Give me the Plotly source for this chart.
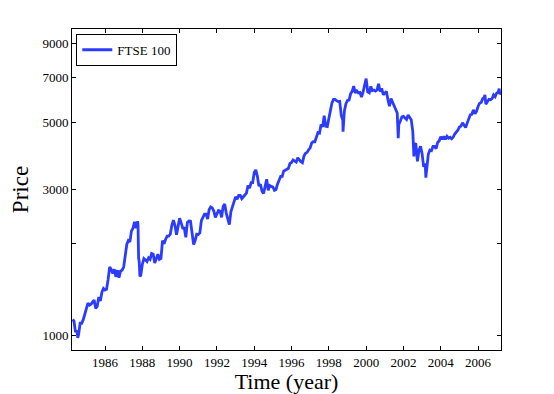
"""
FTSE 100 daily price history, 1984-2007, on a log price axis.
"""
import plotly.graph_objects as go

# monthly closes, first value is end of March 1984
start_year, start_month = 1984, 3
prices_1980s = [
    1130, 1120, 1030, 1040, 1010, 1100, 1100, 1130, 1180, 1232,              # 1984
    1280, 1260, 1270, 1290, 1310, 1230, 1250, 1340, 1300, 1390, 1430, 1413,  # 1985
    1420, 1530, 1680, 1650, 1600, 1650, 1560, 1640, 1550, 1630, 1640, 1679,  # 1986
    1810, 1990, 2050, 2030, 2200, 2250, 2360, 2250, 2370, 1750, 1580, 1712,  # 1987
    1790, 1770, 1750, 1800, 1780, 1860, 1850, 1730, 1800, 1850, 1780, 1793,  # 1988
    2050, 2000, 2070, 2120, 2120, 2150, 2300, 2390, 2300, 2140, 2280, 2423,  # 1989
]
prices_1990s = [
    2340, 2250, 2250, 2100, 2350, 2375, 2370, 2160, 1990, 2050, 2150, 2144,  # 1990
    2170, 2380, 2460, 2500, 2500, 2410, 2590, 2640, 2620, 2560, 2440, 2493,  # 1991
    2570, 2560, 2440, 2650, 2700, 2520, 2400, 2310, 2550, 2660, 2780, 2846,  # 1992
    2800, 2880, 2880, 2810, 2850, 2900, 2930, 3100, 3040, 3170, 3170, 3418,  # 1993
    3490, 3330, 3090, 3130, 2970, 2920, 3080, 3250, 2990, 3100, 3080, 3066,  # 1994
    2990, 3010, 3140, 3220, 3320, 3320, 3460, 3480, 3510, 3530, 3660, 3690,  # 1995
    3760, 3730, 3700, 3820, 3750, 3710, 3680, 3870, 3950, 3980, 4060, 4119,  # 1996
    4275, 4310, 4310, 4440, 4620, 4600, 4910, 4820, 5240, 4840, 4830, 5136,  # 1997
    5460, 5770, 5930, 5930, 5870, 5830, 5840, 5250, 5060, 5440, 5740, 5883,  # 1998
    5900, 6180, 6300, 6550, 6230, 6320, 6230, 6250, 6030, 6260, 6600, 6930,  # 1999
]
prices_2000s = [
    6270, 6230, 6540, 6330, 6360, 6310, 6370, 6670, 6290, 6440, 6140, 6222,  # 2000
    6300, 5920, 5630, 5970, 5800, 5640, 5530, 5350, 4900, 5040, 5200, 5217,  # 2001
    5160, 5100, 5270, 5170, 5090, 4660, 4250, 4230, 3720, 4040, 4170, 3940,  # 2002
    3570, 3660, 3610, 3930, 4050, 4030, 4160, 4160, 4090, 4290, 4340, 4477,  # 2003
    4390, 4490, 4390, 4490, 4430, 4460, 4410, 4460, 4570, 4620, 4700, 4814,  # 2004
    4850, 4970, 4890, 4800, 4960, 5110, 5280, 5300, 5480, 5320, 5420, 5619,  # 2005
    5760, 5790, 5960, 6020, 5720, 5830, 5930, 5910, 5960, 6130, 6050, 6221,  # 2006
    6250, 6170,                                                              # 2007
]

# intra-month extremes (decimal year, price)
extra_years = [1984.54, 1987.77, 1987.80, 1987.87, 1998.76, 2001.72, 2002.56, 2003.20,
               2006.37, 2007.13, 2007.20]
extra_prices = [986, 2300, 1800, 1565, 4650, 4430, 3860, 3290, 6130, 6430, 6200]

monthly = prices_1980s + prices_1990s + prices_2000s
years = [start_year + (start_month - 1 + i + 1) / 12 for i in range(len(monthly))]

points = sorted(zip(years + extra_years, monthly + extra_prices))
x = [p[0] for p in points]
y = [p[1] for p in points]

fig = go.Figure()
fig.add_trace(go.Scatter(
    x=x, y=y, mode="lines", name="FTSE 100",
    line=dict(color="#2b3cff", width=2.8),
))

axis_style = dict(
    showline=True, linecolor="black", linewidth=1, mirror="ticks",
    ticks="inside", ticklen=4, tickcolor="black", showgrid=False, zeroline=False,
    automargin=False,
    tickfont=dict(family="Liberation Serif", size=13, color="black"),
)

# page body adds an 8px offset, so the figure is sized 8px smaller
fig.update_layout(
    width=546, height=386,
    margin=dict(l=64, r=53, t=21, b=44),
    paper_bgcolor="white", plot_bgcolor="white",
    font=dict(family="Liberation Serif", color="black"),
    showlegend=True,
    legend=dict(
        x=0.01, y=0.985, xanchor="left", yanchor="top",
        bordercolor="black", borderwidth=1, bgcolor="white",
        font=dict(family="Liberation Serif", size=13),
        itemwidth=30, tracegroupgap=0,
    ),
    xaxis=dict(
        range=[1984.23, 2007.23], tickvals=list(range(1986, 2007, 2)),
        title=dict(text="Time (year)", font=dict(size=22), standoff=1),
        **axis_style,
    ),
    yaxis=dict(
        type="log", range=[2.954, 4.003],
        tickvals=[1000, 2000, 3000, 5000, 7000, 9000],
        ticktext=["1000", "", "3000", "5000", "7000", "9000"],
        title=dict(text="Price", font=dict(size=23), standoff=8),
        **axis_style,
    ),
)

fig.write_html("out.html")
